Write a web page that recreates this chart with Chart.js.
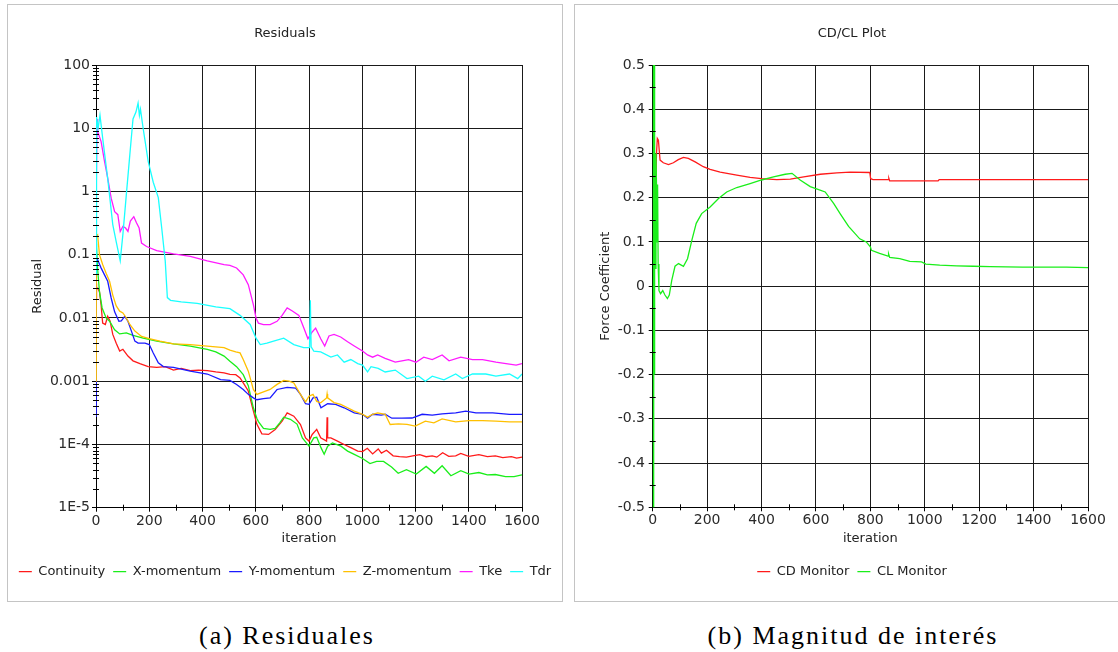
<!DOCTYPE html>
<html>
<head>
<meta charset="utf-8">
<script src="https://cdn.jsdelivr.net/npm/chart.js@4.4.1/dist/chart.umd.min.js"></script>
<style>
html,body{margin:0;padding:0;background:#fff;overflow:hidden;width:1118px;height:652px;}
.panel{position:absolute;top:4px;width:554px;height:596px;border:1px solid #c4c4c4;background:#fff;}
#p1{left:7px;}
#p2{left:574px;}
canvas{display:block;}
.cap{position:absolute;top:621px;width:560px;text-align:center;font-family:"Liberation Serif",serif;font-size:26px;line-height:29px;letter-spacing:2px;color:#000;white-space:nowrap;}
</style>
</head>
<body>
<div class="panel" id="p1"><canvas id="c1" width="554" height="596"></canvas></div>
<div class="panel" id="p2"><canvas id="c2" width="554" height="596"></canvas></div>
<div class="cap" style="left:7px;">(a) Residuales</div>
<div class="cap" style="left:573px;">(b) Magnitud de interés</div>
<script>
// ---------- Residuals chart data ----------
const residualTicks = [1e-5, 1e-4, 1e-3, 1e-2, 1e-1, 1, 10, 100];
const residualTickLabels = ['1E-5', '1E-4', '0.001', '0.01', '0.1', '1', '10', '100'];
const iterTicks = [0, 200, 400, 600, 800, 1000, 1200, 1400, 1600];
const iterMinor = [100, 300, 500, 700, 900, 1100, 1300, 1500];

const contIter = [0,1,3,6,13,19,25,35,44,53,63,76,89,101,120,139,165,196,228,260,291,320,354,385,418,450,481,503,525,541,556,572,591,604,623,648,673,699,718,743,768,787,800,812,829,844,866,868,870,882,907,932,957,983,1001,1019,1039,1060,1072,1091,1116,1140,1166,1190,1216,1240,1263,1280,1302,1325,1351,1370,1400,1438,1470,1500,1528,1560,1580,1600];
const contVal = [0.02,0.035,0.03,0.0298,0.026,0.0163,0.0083,0.0079,0.0106,0.0089,0.0055,0.004,0.003,0.0032,0.0025,0.0021,0.0019,0.0017,0.00166,0.0017,0.0015,0.0016,0.00147,0.0015,0.00147,0.0014,0.00135,0.00128,0.00127,0.00113,0.0009,0.0007,0.00034,0.00021,0.000147,0.000144,0.000173,0.000233,0.000316,0.00028,0.000207,0.000127,0.000113,0.000144,0.000173,0.000127,0.000113,0.00027,0.000127,0.000127,0.000113,0.0001,0.000089,0.0000785,0.000077,0.000087,0.000071,0.000085,0.000073,0.000081,0.000066,0.000064,0.000063,0.000066,0.000069,0.000064,0.000066,0.000063,0.000074,0.000065,0.000066,0.000072,0.000065,0.000069,0.000064,0.000066,0.000062,0.000064,0.000061,0.000063];

const xmomIter = [0,2,6,13,23,38,51,70,89,114,139,177,228,291,354,418,450,481,503,528,553,572,591,604,610,629,654,673,690,705,730,755,775,800,818,829,845,857,870,888,920,945,970,1001,1029,1054,1080,1110,1135,1166,1203,1240,1271,1300,1333,1370,1401,1438,1470,1500,1538,1570,1600];
const xmomVal = [0.15,0.13,0.06,0.026,0.0144,0.01,0.0089,0.0065,0.0056,0.0058,0.0053,0.0048,0.0043,0.0039,0.0036,0.0032,0.0029,0.0025,0.00207,0.0017,0.00127,0.00085,0.00038,0.00026,0.00023,0.00018,0.000173,0.00018,0.00022,0.00027,0.00025,0.00021,0.000127,0.000094,0.000127,0.00013,0.000089,0.00007,0.000094,0.000106,0.000094,0.0000785,0.0000695,0.00006,0.00005,0.000054,0.000054,0.000044,0.000035,0.00004,0.000034,0.000045,0.000035,0.000046,0.000032,0.0000385,0.000034,0.000036,0.000033,0.0000335,0.000031,0.000031,0.000033];

const ymomIter = [0,1,6,19,32,44,57,70,86,95,108,120,133,146,158,184,200,215,234,253,291,354,418,468,503,528,553,572,591,604,629,654,680,718,750,768,787,800,815,829,845,870,900,932,970,1001,1020,1039,1071,1086,1111,1149,1187,1225,1263,1300,1351,1389,1427,1490,1553,1600];
const ymomVal = [0.00028,0.08,0.083,0.062,0.048,0.038,0.0207,0.0125,0.0089,0.009,0.0106,0.0089,0.0062,0.0043,0.004,0.004,0.0038,0.0028,0.00195,0.0017,0.00166,0.00144,0.0013,0.00106,0.00103,0.00089,0.00074,0.00062,0.000545,0.00051,0.00053,0.000545,0.00074,0.0008,0.00078,0.00062,0.00044,0.00043,0.000545,0.00056,0.00038,0.00044,0.00043,0.00038,0.000316,0.0003,0.00026,0.0003,0.00029,0.0003,0.00026,0.00026,0.000262,0.0003,0.00029,0.000305,0.000316,0.000336,0.000316,0.000316,0.0003,0.0003];

const zmomIter = [0,1,6,13,25,38,51,63,76,89,101,114,127,146,171,200,240,291,354,418,481,503,525,541,553,572,591,604,629,654,680,705,725,743,768,787,800,815,829,844,866,868,870,894,919,945,970,1001,1020,1039,1058,1086,1105,1136,1168,1199,1237,1269,1300,1351,1401,1452,1502,1553,1600];
const zmomVal = [0.001,0.2,0.207,0.1,0.07,0.051,0.038,0.023,0.0155,0.0128,0.012,0.01,0.0079,0.0062,0.0051,0.0047,0.0043,0.0039,0.0038,0.0036,0.0034,0.0031,0.0029,0.0028,0.0022,0.00144,0.00074,0.00062,0.00068,0.00074,0.00089,0.00103,0.001,0.00094,0.00062,0.00047,0.00058,0.00062,0.00048,0.000455,0.000545,0.00063,0.000545,0.00046,0.00043,0.00038,0.000336,0.0003,0.00027,0.0003,0.000316,0.0003,0.000207,0.000212,0.000207,0.000195,0.000233,0.00022,0.000254,0.000228,0.000239,0.000239,0.000233,0.000228,0.000228];

const tkeIter = [0,1,4,6,19,32,44,57,70,82,91,101,111,120,129,142,152,162,171,190,228,291,354,418,481,503,528,553,572,591,601,610,629,654,680,699,718,736,762,781,796,812,825,844,859,875,894,919,945,970,1001,1020,1039,1058,1086,1124,1149,1174,1202,1231,1263,1300,1326,1370,1414,1452,1502,1540,1578,1600];
const tkeVal = [0.4,1.0,14,8.9,6.2,3.0,1.63,0.785,0.48,0.43,0.233,0.28,0.264,0.233,0.34,0.4,0.32,0.264,0.153,0.135,0.116,0.103,0.094,0.08,0.0695,0.068,0.0617,0.048,0.0336,0.0163,0.01,0.0083,0.00785,0.00785,0.00885,0.011,0.0144,0.013,0.011,0.0069,0.0047,0.006,0.0069,0.0047,0.0036,0.0052,0.0055,0.005,0.0042,0.0036,0.003,0.0026,0.0024,0.0026,0.0023,0.002,0.0021,0.0022,0.002,0.0024,0.0022,0.0026,0.0021,0.0024,0.0022,0.0022,0.002,0.0019,0.0018,0.0019];

const tdrIter = [0,1,3,8,15,25,44,63,76,91,101,114,127,139,150,158,163,167,177,196,215,234,247,260,268,280,320,380,450,503,541,579,601,617,642,667,705,743,780,802,805,808,818,844,882,907,932,957,983,1001,1020,1033,1060,1086,1124,1168,1212,1237,1263,1307,1351,1376,1414,1464,1502,1553,1584,1600];
const tdrVal = [0.05,0.3,15,10,16,7,1.6,0.3,0.16,0.08,0.21,0.9,3.8,14,18,25,16,20,10,3,1.4,0.8,0.26,0.08,0.021,0.019,0.018,0.017,0.015,0.014,0.011,0.0079,0.0048,0.0038,0.004,0.0043,0.0048,0.0038,0.0034,0.0034,0.019,0.0035,0.003,0.0029,0.0024,0.0026,0.002,0.0022,0.0019,0.0018,0.0014,0.0017,0.0016,0.0014,0.0015,0.0011,0.0012,0.001,0.0012,0.00105,0.0013,0.0011,0.0013,0.0013,0.0012,0.0013,0.0011,0.0013];

// ---------- CD/CL chart data ----------
const forceTicks = [-0.5,-0.4,-0.3,-0.2,-0.1,0,0.1,0.2,0.3,0.4,0.5];
const forceTickLabels = ['-0.5','-0.4','-0.3','-0.2','-0.1','0','0.1','0.2','0.3','0.4','0.5'];
const forceMinor = [-0.45,-0.35,-0.25,-0.15,-0.05,0.05,0.15,0.25,0.35,0.45];

const cdIter = [2,8,10,12,14,17,21,27,39,58,76,94,113,131,156,186,211,248,309,358,400,456,506,555,616,677,726,798,801,810,865,868,871,933,1049,1053,1200,1400,1600];
const cdVal = [0.25,0.25,0.2,0.25,0.3,0.334,0.33,0.285,0.279,0.275,0.279,0.286,0.291,0.289,0.281,0.27,0.264,0.258,0.251,0.246,0.243,0.241,0.242,0.247,0.253,0.256,0.258,0.257,0.243,0.241,0.241,0.244,0.238,0.238,0.238,0.241,0.241,0.241,0.241];

const clIter = [0,1,2,3,4,5,6,7,8,10,12,14,16,18,20,23,29,37,45,54,61,70,82,95,113,128,144,160,180,211,242,272,309,358,400,444,487,512,542,579,610,634,665,690,720,761,785,800,804,834,865,867,871,908,945,988,1004,1055,1117,1178,1240,1300,1360,1423,1480,1521,1560,1600];
const clVal = [-0.7,0.8,-0.6,0.7,-0.4,0.6,-0.2,0.5,0.2,0.04,0.3,0.23,0.1,0.23,0.05,-0.01,-0.017,-0.01,-0.02,-0.028,-0.02,0.013,0.045,0.051,0.045,0.062,0.104,0.142,0.164,0.179,0.198,0.213,0.223,0.232,0.24,0.247,0.253,0.255,0.24,0.225,0.218,0.213,0.187,0.163,0.135,0.107,0.1,0.089,0.081,0.074,0.068,0.073,0.065,0.062,0.056,0.055,0.05,0.0475,0.046,0.045,0.044,0.0435,0.043,0.043,0.043,0.043,0.0425,0.042];

// ---------- helpers ----------
const pts = (xs, ys) => xs.map((x, i) => ({x: x, y: ys[i]}));
const logMinor = [];
for (let d = -5; d < 2; d++) for (let k = 2; k <= 9; k++) logMinor.push(k * Math.pow(10, d));

Chart.defaults.font.family = '"DejaVu Sans", sans-serif';
Chart.defaults.color = '#2a2a2a';

const minorTicks = {
  id: 'minorTicks',
  afterDraw(chart, args, opts) {
    const ctx = chart.ctx, ca = chart.chartArea;
    const xs = chart.scales.x, ys = chart.scales.y;
    ctx.save();
    ctx.strokeStyle = '#000';
    ctx.lineWidth = 1;
    ctx.beginPath();
    (opts.xMinor || []).forEach(v => {
      const px = Math.round(xs.getPixelForValue(v)) + 0.5;
      ctx.moveTo(px, ca.bottom - 3); ctx.lineTo(px, ca.bottom + 3);
    });
    (opts.yMinor || []).forEach(v => {
      const py = Math.round(ys.getPixelForValue(v)) + 0.5;
      ctx.moveTo(ca.left - 3, py); ctx.lineTo(ca.left + 3, py);
    });
    ctx.stroke();
    ctx.restore();
  }
};

function ds(label, xs, ys, color, order) {
  return {label: label, data: pts(xs, ys), borderColor: color, backgroundColor: color,
          borderWidth: 1.3, pointRadius: 0, tension: 0, order: order, yAxisID: 'y'};
}

function commonOptions(titleText, yTitle, yTitlePad, yWidth, xHeight, rightGap) {
  return {
    responsive: false, animation: false, devicePixelRatio: 1,
    layout: {padding: {left: 0, right: 0, top: 0, bottom: 12.8}},
    plugins: {
      title: {display: true, text: titleText, color: '#222', font: {size: 13, weight: 'normal'}, padding: {top: 21, bottom: 23.4}},
      legend: {position: 'bottom', labels: {boxWidth: 13, boxHeight: 0, padding: 8, color: '#222', font: {size: 13},
               sort: (a, b) => a.datasetIndex - b.datasetIndex}},
      tooltip: {enabled: false}
    },
    scales: {
      x: {type: 'linear', min: 0, max: 1600,
          afterBuildTicks: s => { s.ticks = iterTicks.map(v => ({value: v})); },
          afterFit: s => { s.height = xHeight; },
          ticks: {autoSkip: false, maxRotation: 0, padding: 1, font: {size: 14}, color: '#2a2a2a', callback: v => String(v)},
          grid: {color: '#1a1a1a', lineWidth: 1, tickLength: 4, tickColor: '#000'},
          border: {display: true, color: '#000', width: 1},
          title: {display: true, text: 'iteration', color: '#222', font: {size: 13}, padding: {top: 0, bottom: 10.4}}},
      y: {position: 'left',
          afterFit: s => { s.width = yWidth; },
          grid: {color: '#1a1a1a', lineWidth: 1, tickLength: 4, tickColor: '#000'},
          border: {display: true, color: '#000', width: 1},
          title: {display: true, text: yTitle, color: '#222', font: {size: 13}, padding: {top: yTitlePad, bottom: 0}}},
      gap: {type: 'linear', position: 'right', display: true,
            afterFit: s => { s.width = rightGap; },
            ticks: {display: false}, grid: {display: false, drawTicks: false}, border: {display: false}, title: {display: false}}
    }
  };
}

// ---------- Residuals ----------
const opt1 = commonOptions('Residuals', 'Residual', 22.2, 88, 49.5, 40);
opt1.scales.y.type = 'logarithmic';
opt1.scales.y.min = 1e-5;
opt1.scales.y.max = 100;
opt1.scales.y.afterBuildTicks = s => { s.ticks = residualTicks.map(v => ({value: v})); };
opt1.scales.y.ticks = {autoSkip: false, padding: 2, font: {size: 14}, color: '#2a2a2a', callback: (v, i) => residualTickLabels[i]};
opt1.plugins.minorTicks = {xMinor: iterMinor, yMinor: logMinor};

new Chart(document.getElementById('c1'), {
  type: 'line',
  data: {datasets: [
    ds('Continuity', contIter, contVal, '#ff1a1a', 5),
    ds('X-momentum', xmomIter, xmomVal, '#1aee1a', 4),
    ds('Y-momentum', ymomIter, ymomVal, '#1a1aff', 3),
    ds('Z-momentum', zmomIter, zmomVal, '#ffc000', 2),
    ds('Tke', tkeIter, tkeVal, '#ff1aff', 1),
    ds('Tdr', tdrIter, tdrVal, '#1affff', 0)
  ]},
  options: opt1,
  plugins: [minorTicks]
});

// ---------- CD/CL ----------
const opt2 = commonOptions('CD/CL Plot', 'Force Coefficient', 23.2, 77.7, 49.9, 41);
opt2.scales.y.type = 'linear';
opt2.scales.y.min = -0.5;
opt2.scales.y.max = 0.5;
opt2.scales.y.afterBuildTicks = s => { s.ticks = forceTicks.map(v => ({value: v})); };
opt2.scales.y.ticks = {autoSkip: false, padding: 3.7, font: {size: 14}, color: '#2a2a2a', callback: (v, i) => forceTickLabels[i]};
opt2.plugins.minorTicks = {xMinor: iterMinor, yMinor: forceMinor};

new Chart(document.getElementById('c2'), {
  type: 'line',
  data: {datasets: [
    ds('CD Monitor', cdIter, cdVal, '#ff1a1a', 1),
    ds('CL Monitor', clIter, clVal, '#1aee1a', 0)
  ]},
  options: opt2,
  plugins: [minorTicks]
});
</script>
</body>
</html>
